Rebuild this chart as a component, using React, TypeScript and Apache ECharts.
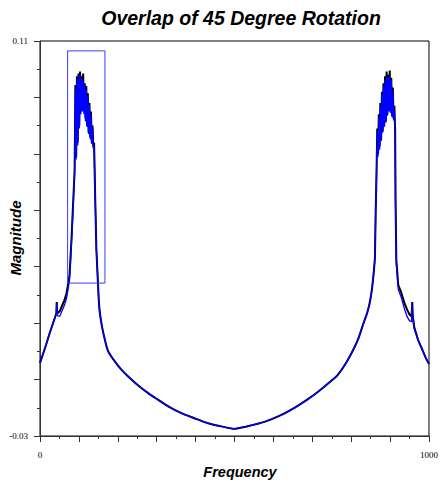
import React, { useEffect, useRef } from "react";
import * as echarts from "echarts";

const titleText = "Overlap of 45 Degree Rotation";
const xAxisName = "Frequency";
const yAxisName = "Magnitude";

const yTickLabels = [-0.03, 0.11];
const yMajorTicks = [-0.03, -0.01, 0.01, 0.03, 0.05, 0.07, 0.09, 0.11];
const xTickLabels = [0, 1000];
const xMajorTicks = [0, 100, 200, 300, 400, 500, 600, 700, 800, 900, 1000];

// left tail (0 .. 89)
const leftTailFreq = [0, 13, 25, 38, 42, 43, 44, 46, 51, 63, 68, 71, 76, 81, 84, 89];
const leftTailBlack = [-0.0041, 0.0012, 0.0065, 0.0118, 0.0135, 0.0175, 0.014, 0.0136, 0.0143, 0.0182, 0.0205, 0.0228, 0.0271, 0.04, 0.049, 0.0643];
const leftTailBlue = [-0.0041, 0.0012, 0.0065, 0.0118, 0.0132, 0.017, 0.0132, 0.0125, 0.0125, 0.0164, 0.0187, 0.021, 0.0255, 0.0385, 0.0475, 0.063];

// left peak (noisy) and its steep fall
const leftPeakFreq = [91, 93, 95, 97, 99, 101, 103, 105, 107, 109, 111, 113, 115, 117, 119, 121, 123, 125, 127, 129, 131, 133, 135, 137, 139, 142, 145, 149];
const leftPeakBlack = [0.0944, 0.069, 0.0975, 0.074, 0.0985, 0.08, 0.0992, 0.085, 0.0975, 0.086, 0.0985, 0.085, 0.095, 0.0825, 0.094, 0.08, 0.0915, 0.0775, 0.088, 0.076, 0.085, 0.074, 0.08, 0.0725, 0.074, 0.0537, 0.0359, 0.0242];
const leftPeakBlue = [0.093, 0.068, 0.0965, 0.073, 0.0975, 0.079, 0.0978, 0.084, 0.0968, 0.085, 0.0962, 0.084, 0.0945, 0.0815, 0.093, 0.0795, 0.0905, 0.077, 0.0872, 0.0752, 0.084, 0.0735, 0.0795, 0.0718, 0.073, 0.0537, 0.0359, 0.0242];

// valley, left half (shared)
const valleyLeftFreq = [149, 153, 160, 167, 175, 190, 208, 228, 251, 278, 304, 332, 362, 395, 430, 463, 499];
const valleyLeftMag = [0.0242, 0.0147, 0.0083, 0.004, 0.0001, -0.0031, -0.0063, -0.0091, -0.0119, -0.0148, -0.0172, -0.0197, -0.0218, -0.0236, -0.0254, -0.0265, -0.0275];

// valley, right half (shared)
const valleyRightFreq = [499, 532, 577, 615, 653, 686, 714, 742, 765, 785, 805, 818, 830, 841, 848, 853, 858, 861];
const valleyRightMag = [-0.0275, -0.0266, -0.025, -0.0229, -0.0201, -0.0172, -0.0144, -0.0112, -0.0084, -0.0045, 0.0005, 0.0044, 0.0093, 0.0136, 0.0175, 0.0217, 0.0281, 0.0331];

// right peak (steep rise and noise)
const rightPeakFreq = [861, 863, 865, 867, 869, 871, 873, 875, 877, 879, 881, 883, 885, 887, 889, 891, 893, 895, 897, 899, 901, 903, 905, 907, 909, 911];
const rightPeakBlack = [0.0331, 0.0501, 0.0625, 0.079, 0.07, 0.084, 0.0725, 0.088, 0.075, 0.092, 0.078, 0.095, 0.08, 0.0975, 0.0815, 0.0992, 0.084, 0.098, 0.0855, 0.0995, 0.085, 0.097, 0.0835, 0.0935, 0.0825, 0.087];
const rightPeakBlue = [0.0331, 0.0501, 0.0625, 0.078, 0.069, 0.083, 0.0715, 0.087, 0.0745, 0.091, 0.0775, 0.094, 0.0795, 0.0962, 0.081, 0.0975, 0.0835, 0.097, 0.085, 0.0978, 0.0845, 0.0962, 0.083, 0.0925, 0.0818, 0.0855];

// right tail
const rightTailFreq = [913, 914, 916, 921, 929, 937, 944, 950, 955, 956, 957, 958, 962, 972, 980, 992, 1000];
const rightTailBlack = [0.078, 0.0537, 0.0324, 0.0235, 0.0207, 0.0171, 0.0147, 0.013, 0.0125, 0.0145, 0.0175, 0.013, 0.0086, 0.004, 0.0015, -0.0024, -0.0045];
const rightTailBlue = [0.076, 0.052, 0.031, 0.022, 0.019, 0.015, 0.0122, 0.0108, 0.0105, 0.0135, 0.017, 0.012, 0.008, 0.004, 0.0015, -0.0024, -0.0045];

// zoom box
const boxFreq = [71, 71, 167, 167, 71];
const boxMag = [0.0242, 0.1065, 0.1065, 0.0242, 0.0242];

const zip = (xs: number[], ys: number[]) => xs.map((x, i) => [x, ys[i]]);

const blackSegments = [
  { data: [...zip(leftTailFreq, leftTailBlack), ...zip(leftPeakFreq, leftPeakBlack)], smooth: false },
  { data: zip(valleyLeftFreq, valleyLeftMag), smooth: true },
  { data: zip(valleyRightFreq, valleyRightMag), smooth: true },
  { data: [...zip(rightPeakFreq, rightPeakBlack), ...zip(rightTailFreq, rightTailBlack)], smooth: false },
];
const blueSegments = [
  { data: [...zip(leftTailFreq, leftTailBlue), ...zip(leftPeakFreq, leftPeakBlue)], smooth: false },
  { data: zip(valleyLeftFreq, valleyLeftMag), smooth: true },
  { data: zip(valleyRightFreq, valleyRightMag), smooth: true },
  { data: [...zip(rightPeakFreq, rightPeakBlue), ...zip(rightTailFreq, rightTailBlue)], smooth: false },
];

export default function App() {
  const ref = useRef<HTMLDivElement>(null);
  useEffect(() => {
    if (!ref.current) return;
    const chart = echarts.init(ref.current, undefined, { renderer: "svg" });
    const labelFont = { fontFamily: "Liberation Serif", fontSize: 9, color: "#000" };
    const baseX = {
      type: "value",
      min: 0,
      max: 1000,
      interval: 50,
      position: "bottom",
      splitLine: { show: false },
    };
    const baseY = {
      type: "value",
      min: -0.03,
      max: 0.11,
      interval: 0.01,
      position: "left",
      splitLine: { show: false },
    };
    const mkSeries = (segs: { data: number[][]; smooth: boolean }[], color: string, width: number, z: number) =>
      segs.map((s) => ({
        type: "line",
        data: s.data,
        smooth: s.smooth ? 0.3 : false,
        showSymbol: false,
        symbol: "none",
        lineStyle: { color, width },
        z,
      }));
    chart.setOption({
      animation: false,
      backgroundColor: "#fff",
      grid: {
        left: 40,
        right: 6,
        top: 41,
        bottom: 49,
        show: true,
        borderColor: "#000",
        borderWidth: 1,
      },
      graphic: [
        {
          type: "text",
          x: 241,
          y: 18,
          style: {
            text: titleText,
            fontFamily: "Liberation Sans",
            fontWeight: "bold",
            fontStyle: "italic",
            fontSize: 19.5,
            fill: "#000",
            textAlign: "center",
            textVerticalAlign: "middle",
          },
        },
        {
          type: "text",
          x: 240,
          y: 472,
          style: {
            text: xAxisName,
            fontFamily: "Liberation Sans",
            fontWeight: "bold",
            fontStyle: "italic",
            fontSize: 14.5,
            fill: "#000",
            textAlign: "center",
            textVerticalAlign: "middle",
          },
        },
        {
          type: "text",
          x: 15,
          y: 238,
          rotation: Math.PI / 2,
          style: {
            text: yAxisName,
            fontFamily: "Liberation Sans",
            fontWeight: "bold",
            fontStyle: "italic",
            fontSize: 15,
            fill: "#000",
            textAlign: "center",
            textVerticalAlign: "middle",
          },
        },
      ],
      xAxis: [
        {
          ...baseX,
          axisLine: { onZero: false, lineStyle: { color: "#333", width: 1 } },
          axisTick: { length: 3, lineStyle: { color: "#333" } },
          axisLabel: {
            ...labelFont,
            margin: 14,
            customValues: xTickLabels,
            showMinLabel: true,
            showMaxLabel: true,
            formatter: (v: number) => String(v),
          },
        },
        {
          ...baseX,
          axisLine: { show: false, onZero: false },
          axisTick: { length: 6, customValues: xMajorTicks, lineStyle: { color: "#333" } },
          axisLabel: { show: false },
        },
      ],
      yAxis: [
        {
          ...baseY,
          axisLine: { show: true, onZero: false, lineStyle: { color: "#333", width: 1 } },
          axisTick: { show: true, length: 3, lineStyle: { color: "#333" } },
          axisLabel: {
            ...labelFont,
            margin: 12,
            customValues: yTickLabels,
            showMinLabel: true,
            showMaxLabel: true,
            formatter: (v: number) => (Math.round(v * 100) / 100).toString(),
          },
        },
        {
          ...baseY,
          axisLine: { show: false, onZero: false },
          axisTick: { show: true, length: 6, customValues: yMajorTicks, lineStyle: { color: "#333" } },
          axisLabel: { show: false },
        },
      ],
      series: [
        ...mkSeries(blackSegments, "#000", 2, 2),
        ...mkSeries(blueSegments, "#0000ff", 1.3, 3),
        {
          type: "line",
          name: "box",
          data: zip(boxFreq, boxMag),
          showSymbol: false,
          symbol: "none",
          lineStyle: { color: "#3a3aff", width: 1 },
          z: 4,
        },
      ],
    });
    return () => chart.dispose();
  }, []);
  return (
    <div
      ref={ref}
      style={{ position: "fixed", left: 0, top: 0, width: 441, height: 485 }}
    />
  );
}
